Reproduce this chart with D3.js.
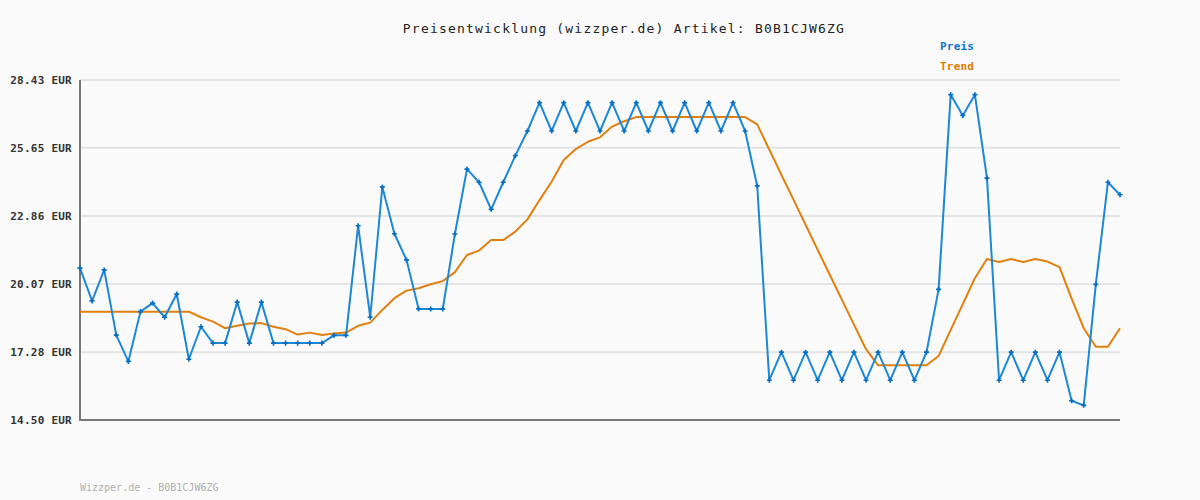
<!DOCTYPE html>
<html>
<head>
<meta charset="utf-8">
<script src="https://cdn.jsdelivr.net/npm/d3@7"></script>
<style>
  html, body { margin: 0; padding: 0; background: #fafafa; }
  svg { display: block; }
</style>
</head>
<body>
<svg id="chart" width="1200" height="500"></svg>
<script>
const titleText = "Preisentwicklung (wizzper.de) Artikel: B0B1CJW6ZG";
const footerText = "Wizzper.de - B0B1CJW6ZG";
const seriesNames = ["Preis", "Trend"];
const tickValues = [14.50, 17.28, 20.07, 22.86, 25.65, 28.43];
const tickLabels = ["14.50 EUR", "17.28 EUR", "20.07 EUR", "22.86 EUR", "25.65 EUR", "28.43 EUR"];

const preis = [
  20.72, 19.38, 20.65, 17.98, 16.90, 18.94, 19.29, 18.71, 19.66, 16.99,
  18.32, 17.65, 17.65, 19.33, 17.65, 19.33, 17.65, 17.65, 17.65, 17.65,
  17.65, 17.97, 17.97, 22.46, 18.71, 24.05, 22.13, 21.06, 19.05, 19.05,
  19.05, 22.12, 24.78, 24.24, 23.13, 24.24, 25.33, 26.34, 27.50, 26.34,
  27.50, 26.34, 27.50, 26.34, 27.50, 26.34, 27.50, 26.34, 27.50, 26.34,
  27.50, 26.34, 27.50, 26.34, 27.50, 26.34, 24.09, 16.13, 17.28, 16.13,
  17.28, 16.13, 17.28, 16.13, 17.28, 16.13, 17.28, 16.13, 17.28, 16.13,
  17.28, 19.85, 27.83, 26.98, 27.83, 24.41, 16.13, 17.28, 16.13, 17.28,
  16.13, 17.28, 15.29, 15.10, 20.06, 24.24, 23.73
];

const trend = [
  18.94, 18.94, 18.94, 18.94, 18.94, 18.94, 18.94, 18.94, 18.94, 18.94,
  18.71, 18.53, 18.26, 18.36, 18.45, 18.47, 18.32, 18.22, 18.00, 18.08,
  17.98, 18.04, 18.08, 18.36, 18.49, 19.01, 19.49, 19.80, 19.90, 20.06,
  20.19, 20.56, 21.26, 21.44, 21.87, 21.87, 22.22, 22.72, 23.51, 24.26,
  25.15, 25.60, 25.90, 26.08, 26.52, 26.74, 26.91, 26.91, 26.91, 26.91,
  26.91, 26.91, 26.91, 26.91, 26.91, 26.91, 26.61, 25.58, 24.55, 23.53,
  22.50, 21.47, 20.45, 19.43, 18.41, 17.40, 16.74, 16.74, 16.74, 16.74,
  16.74, 17.12, 18.19, 19.25, 20.31, 21.10, 20.97, 21.10, 20.97, 21.10,
  20.99, 20.76, 19.47, 18.26, 17.50, 17.50, 18.26
];

const colors = { preis: "#1e88d4", preisMark: "#0a6ec0", trend: "#e0800f", preisText: "#0b74c4", trendText: "#de7a00" };

const svg = d3.select("#chart");
const margin = { left: 80, right: 80, top: 80, bottom: 80 };
const W = 1200, H = 500;

const x = d3.scaleLinear().domain([0, preis.length - 1]).range([margin.left, W - margin.right]);
const y = d3.scaleLinear().domain([14.50, 28.43]).range([H - margin.bottom, margin.top]);

svg.append("rect").attr("width", W).attr("height", H).attr("fill", "#fafafa");

// grid
svg.append("g")
  .selectAll("line")
  .data(tickValues.slice(1))
  .join("line")
  .attr("x1", margin.left).attr("x2", W - margin.right)
  .attr("y1", d => y(d)).attr("y2", d => y(d))
  .attr("stroke", "#e4e4e4").attr("stroke-width", 2);

// y axis labels
const yAxis = d3.axisLeft(y)
  .tickValues(tickValues)
  .tickSize(0)
  .tickPadding(8)
  .tickFormat((d, i) => tickLabels[i]);
const gy = svg.append("g").attr("transform", `translate(${margin.left},0)`).call(yAxis);
gy.select(".domain").remove();
gy.selectAll("text")
  .attr("font-family", "DejaVu Sans Mono, monospace")
  .attr("font-size", 11)
  .attr("font-weight", "bold")
  .attr("letter-spacing", "0.25px")
  .attr("fill", "#333");

// axes lines
svg.append("line")
  .attr("x1", margin.left).attr("x2", margin.left)
  .attr("y1", y(28.43)).attr("y2", y(14.50) + 1)
  .attr("stroke", "#777").attr("stroke-width", 2);
svg.append("line")
  .attr("x1", margin.left - 1).attr("x2", W - margin.right)
  .attr("y1", y(14.50)).attr("y2", y(14.50))
  .attr("stroke", "#777").attr("stroke-width", 2);

const line = d3.line().x((d, i) => x(i)).y(d => y(d));

svg.append("path")
  .datum(trend)
  .attr("d", line)
  .attr("fill", "none")
  .attr("stroke", colors.trend)
  .attr("stroke-width", 2)
  .attr("stroke-linejoin", "round");

svg.append("path")
  .datum(preis)
  .attr("d", line)
  .attr("fill", "none")
  .attr("stroke", colors.preis)
  .attr("stroke-width", 2)
  .attr("stroke-linejoin", "round");

svg.append("g")
  .selectAll("path")
  .data(preis)
  .join("path")
  .attr("transform", (d, i) => `translate(${x(i)},${y(d)})`)
  .attr("d", d3.symbol(d3.symbolCross, 14))
  .attr("fill", colors.preisMark);

// title
svg.append("text")
  .attr("x", 624).attr("y", 33)
  .attr("text-anchor", "middle")
  .attr("font-family", "DejaVu Sans Mono, monospace")
  .attr("font-size", 13)
  .attr("letter-spacing", "1.2px")
  .attr("fill", "#222")
  .text(titleText);

// legend
svg.append("text")
  .attr("x", 940).attr("y", 50)
  .attr("font-family", "DejaVu Sans Mono, monospace")
  .attr("font-size", 11).attr("font-weight", "bold")
  .attr("letter-spacing", "0.2px")
  .attr("fill", colors.preisText)
  .text(seriesNames[0]);
svg.append("text")
  .attr("x", 940).attr("y", 70)
  .attr("font-family", "DejaVu Sans Mono, monospace")
  .attr("font-size", 11).attr("font-weight", "bold")
  .attr("letter-spacing", "0.2px")
  .attr("fill", colors.trendText)
  .text(seriesNames[1]);

// footer
svg.append("text")
  .attr("x", 80).attr("y", 491)
  .attr("font-family", "DejaVu Sans Mono, monospace")
  .attr("font-size", 10)
  .attr("fill", "#b0b0b0")
  .text(footerText);
</script>
</body>
</html>
